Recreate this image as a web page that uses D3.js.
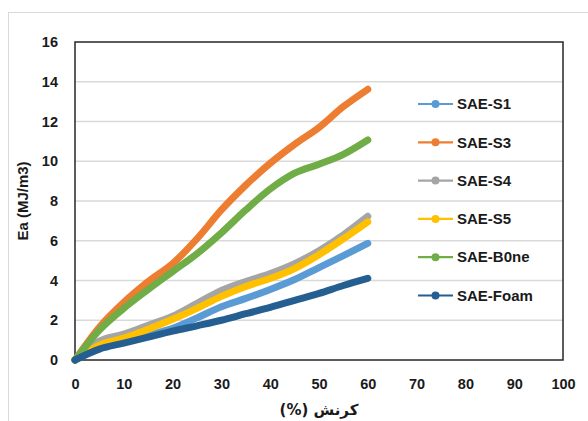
<!DOCTYPE html>
<html>
<head>
<meta charset="utf-8">
<script src="https://cdn.jsdelivr.net/npm/d3@7"></script>
<style>
  html, body { margin: 0; padding: 0; background: #fff; }
  svg { display: block; }
  text { font-family: "Liberation Sans", Arial, sans-serif; font-weight: bold; fill: #1a1a1a; }
</style>
</head>
<body>
<svg id="chart" width="588" height="421"></svg>
<script>
const strain = [0, 5, 10, 15, 20, 25, 30, 35, 40, 45, 50, 55, 60];
const seriesNames = ["SAE-S1", "SAE-S3", "SAE-S4", "SAE-S5", "SAE-B0ne", "SAE-Foam"];
const seriesColors = ["#5B9BD5", "#ED7D31", "#A5A5A5", "#FFC000", "#70AD47", "#255E91"];
const valuesS1   = [0, 0.60, 0.95, 1.25, 1.60, 2.12, 2.68, 3.10, 3.55, 4.05, 4.65, 5.25, 5.87];
const valuesS3   = [0, 1.65, 2.90, 3.95, 4.85, 6.10, 7.55, 8.80, 9.90, 10.85, 11.70, 12.75, 13.62];
const valuesS4   = [0, 0.95, 1.30, 1.75, 2.20, 2.85, 3.50, 3.95, 4.35, 4.85, 5.50, 6.30, 7.23];
const valuesS5   = [0, 0.75, 1.10, 1.55, 2.05, 2.60, 3.20, 3.70, 4.10, 4.60, 5.30, 6.10, 6.95];
const valuesBone = [0, 1.50, 2.60, 3.55, 4.45, 5.35, 6.40, 7.55, 8.60, 9.40, 9.85, 10.35, 11.07];
const valuesFoam = [0, 0.55, 0.85, 1.15, 1.45, 1.72, 2.00, 2.33, 2.65, 3.00, 3.35, 3.75, 4.11];
const xTicks = [0, 10, 20, 30, 40, 50, 60, 70, 80, 90, 100];
const yTicks = [0, 2, 4, 6, 8, 10, 12, 14, 16];
const xTitle = "(%) کرنش";
const yTitle = "Ea (MJ/m3)";

const allValues = [valuesS1, valuesS3, valuesS4, valuesS5, valuesBone, valuesFoam];
const series = seriesNames.map((name, i) => ({
  name, color: seriesColors[i],
  points: strain.map((s, j) => ({ x: s, y: allValues[i][j] }))
}));

const svg = d3.select("#chart");
const pLeft = 75, pRight = 563, pTop = 42, pBottom = 360;

// outer chart border
svg.append("rect").attr("x", 8.5).attr("y", 12.5).attr("width", 620).attr("height", 430)
  .attr("fill", "none").attr("stroke", "#d9d9d9").attr("stroke-width", 1);

const x = d3.scaleLinear().domain([0, 100]).range([pLeft, pRight]);
const y = d3.scaleLinear().domain([0, 16]).range([pBottom, pTop]);

// gridlines
svg.append("g").selectAll("line").data(yTicks.filter(t => t > 0 && t < 16)).join("line")
  .attr("x1", pLeft).attr("x2", pRight)
  .attr("y1", d => y(d)).attr("y2", d => y(d))
  .attr("stroke", "#d9d9d9").attr("stroke-width", 1.5);

// axes
const yAxis = svg.append("g").attr("transform", `translate(${pLeft},0)`)
  .call(d3.axisLeft(y).tickValues(yTicks).tickSize(0).tickPadding(17));
yAxis.select(".domain").remove();
yAxis.selectAll("text").attr("font-size", 14.5).attr("font-family", "Liberation Sans, Arial, sans-serif").attr("font-weight", "bold").attr("fill", "#1a1a1a");

const xAxis = svg.append("g").attr("transform", `translate(0,${pBottom})`)
  .call(d3.axisBottom(x).tickValues(xTicks).tickSize(0).tickPadding(19));
xAxis.select(".domain").remove();
xAxis.selectAll("text").attr("font-size", 14.5).attr("font-family", "Liberation Sans, Arial, sans-serif").attr("font-weight", "bold").attr("fill", "#1a1a1a");

// plot frame
svg.append("rect").attr("x", pLeft).attr("y", pTop).attr("width", pRight - pLeft).attr("height", pBottom - pTop)
  .attr("fill", "none").attr("stroke", "#262626").attr("stroke-width", 1.5);

// lines
const line = d3.line().x(d => x(d.x)).y(d => y(d.y)).curve(d3.curveMonotoneX);
svg.append("g").selectAll("path").data(series).join("path")
  .attr("d", d => line(d.points))
  .attr("fill", "none").attr("stroke", d => d.color)
  .attr("stroke-width", 7).attr("stroke-linecap", "round").attr("stroke-linejoin", "round");

// legend
const lg = svg.append("g").selectAll("g").data(series).join("g")
  .attr("transform", (d, i) => `translate(418,${104 + i * 38.3})`);
lg.append("line").attr("x1", 0).attr("x2", 35).attr("y1", 0).attr("y2", 0)
  .attr("stroke", d => d.color).attr("stroke-width", 2.2);
lg.append("circle").attr("cx", 17.5).attr("cy", 0).attr("r", 4).attr("fill", d => d.color);
lg.append("text").attr("x", 39).attr("y", 0).attr("dy", "0.35em")
  .attr("font-size", 15).text(d => d.name);

// axis titles
svg.append("text").attr("transform", "translate(28,201) rotate(-90)")
  .attr("text-anchor", "middle").attr("font-size", 15).text(yTitle);
svg.append("text").attr("x", x(50)).attr("y", 415)
  .attr("text-anchor", "middle").attr("font-size", 15)
  .style("font-family", "'DejaVu Sans', 'Liberation Sans', sans-serif").text(xTitle);
</script>
</body>
</html>
